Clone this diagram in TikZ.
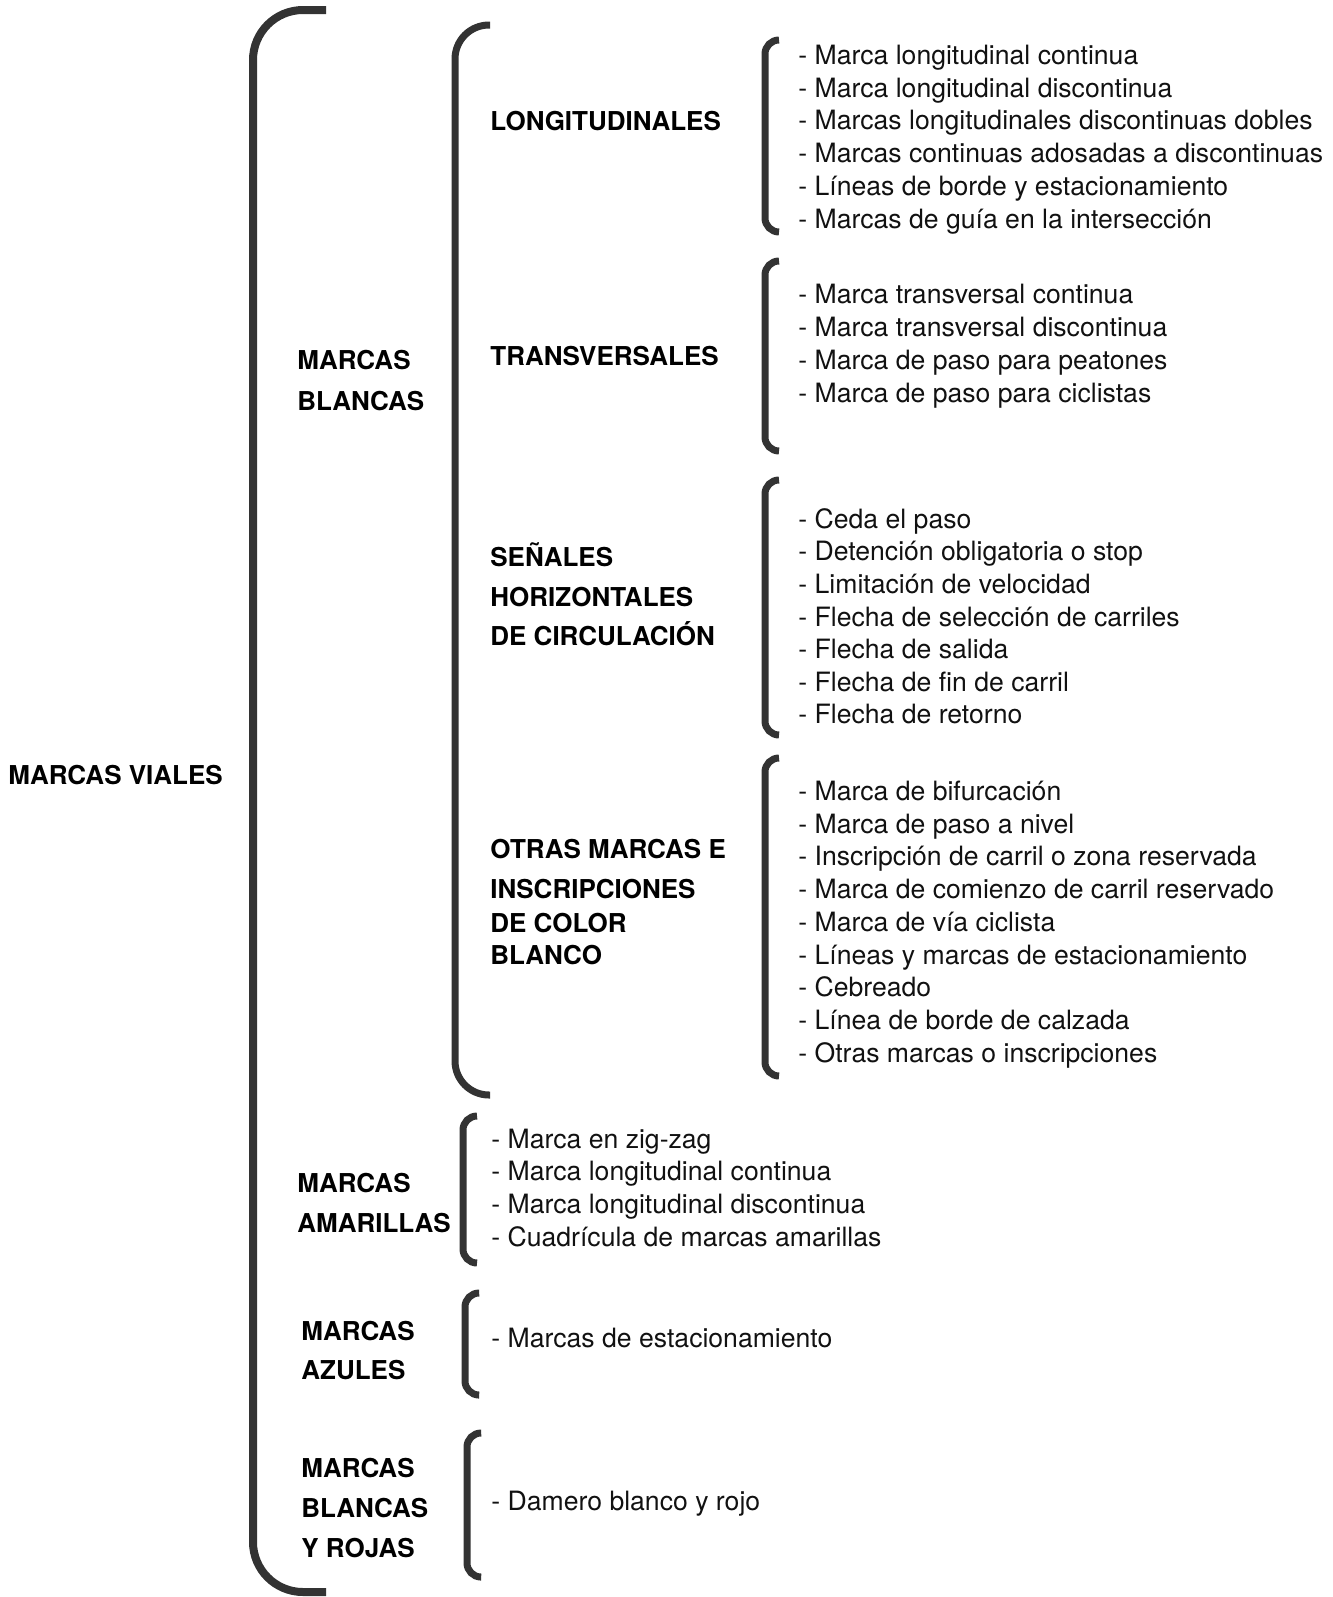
\documentclass[tikz,border=0pt]{standalone}
\usepackage{fontspec}
\setmainfont{TeX Gyre Heros}
\definecolor{bcol}{HTML}{333333}
\definecolor{tcol}{HTML}{111111}
\begin{document}
\begin{tikzpicture}[x=0.5pt,y=-0.5pt,
  brk/.style={draw=bcol,line width=3.5pt},
  bigbrk/.style={draw=bcol,line width=4pt},
  head/.style={anchor=mid west,inner sep=0,font=\fontsize{13}{16}\selectfont\bfseries,text=black},
  item/.style={anchor=mid west,inner sep=0,font=\fontsize{13.3}{16}\selectfont,text=tcol}]
\useasboundingbox (0,0) rectangle (1333,1597);
% brackets
\draw[bigbrk,rounded corners=25pt] (326,10) -- (253,10) -- (253,1592) -- (326,1592);
\draw[brk,rounded corners=17pt] (490,25) -- (455,25) -- (455,1095) -- (490,1095);
\draw[brk,rounded corners=7pt] (779,40) -- (765,40) -- (765,232) -- (779,232);
\draw[brk,rounded corners=7pt] (779,261) -- (765,261) -- (765,451) -- (779,451);
\draw[brk,rounded corners=7pt] (779,480) -- (765,480) -- (765,735) -- (779,735);
\draw[brk,rounded corners=7pt] (779,758) -- (765,758) -- (765,1076) -- (779,1076);
\draw[brk,rounded corners=7pt] (477,1116) -- (463,1116) -- (463,1263) -- (477,1263);
\draw[brk,rounded corners=7pt] (478,1293) -- (465,1293) -- (465,1395) -- (478,1395);
\draw[brk,rounded corners=7pt] (480,1433) -- (467,1433) -- (467,1577) -- (480,1577);
\begin{scope}[shift={(0,5)}]
% headings
\node[head] (mv) at (8,774) {MARCAS VIALES};
\node[head] (mb1) at (297,359) {MARCAS};
\node[head] (mb2) at (297,400) {BLANCAS};
\node[head] (lon) at (490,120) {LONGITUDINALES};
\node[head] (tra) at (490,355) {TRANSVERSALES};
\node[head] (sh1) at (490,556) {SEÑALES};
\node[head] (sh2) at (490,596) {HORIZONTALES};
\node[head] (sh3) at (490,635) {DE CIRCULACIÓN};
\node[head] (ot1) at (490,848) {OTRAS MARCAS E};
\node[head] (ot2) at (490,888) {INSCRIPCIONES};
\node[head] (ot3) at (490,922) {DE COLOR};
\node[head] (ot4) at (490,954) {BLANCO};
\node[head] (ma1) at (297,1182) {MARCAS};
\node[head] (ma2) at (297,1222) {AMARILLAS};
\node[head] (az1) at (301,1330) {MARCAS};
\node[head] (az2) at (301,1369) {AZULES};
\node[head] (br1) at (301,1467) {MARCAS};
\node[head] (br2) at (301,1507) {BLANCAS};
\node[head] (br3) at (301,1547) {Y ROJAS};
% items
\foreach \t [count=\i from 0] in {- Marca longitudinal continua,- Marca longitudinal discontinua,- Marcas longitudinales discontinuas dobles,- Marcas continuas adosadas a discontinuas,- Líneas de borde y estacionamiento,- Marcas de guía en la intersección}
  \node[item] (la\i) at (798,{54+32.8*\i}) {\t};
\foreach \t [count=\i from 0] in {- Marca transversal continua,- Marca transversal discontinua,- Marca de paso para peatones,- Marca de paso para ciclistas}
  \node[item] (lb\i) at (798,{293+33*\i}) {\t};
\foreach \t [count=\i from 0] in {- Ceda el paso,- Detención obligatoria o stop,- Limitación de velocidad,- Flecha de selección de carriles,- Flecha de salida,- Flecha de fin de carril,- Flecha de retorno}
  \node[item] (lc\i) at (798,{518+32.6*\i}) {\t};
\foreach \t [count=\i from 0] in {- Marca de bifurcación,- Marca de paso a nivel,- Inscripción de carril o zona reservada,- Marca de comienzo de carril reservado,- Marca de vía ciclista,- Líneas y marcas de estacionamiento,- Cebreado,- Línea de borde de calzada,- Otras marcas o inscripciones}
  \node[item] (ld\i) at (798,{790+32.75*\i}) {\t};
\foreach \t [count=\i from 0] in {- Marca en zig-zag,- Marca longitudinal continua,- Marca longitudinal discontinua,- Cuadrícula de marcas amarillas}
  \node[item] (le\i) at (491,{1138+32.7*\i}) {\t};
\node[item] (lf0) at (491,1337) {- Marcas de estacionamiento};
\node[item] (lg0) at (491,1500) {- Damero blanco y rojo};
\end{scope}
\end{tikzpicture}
\end{document}
